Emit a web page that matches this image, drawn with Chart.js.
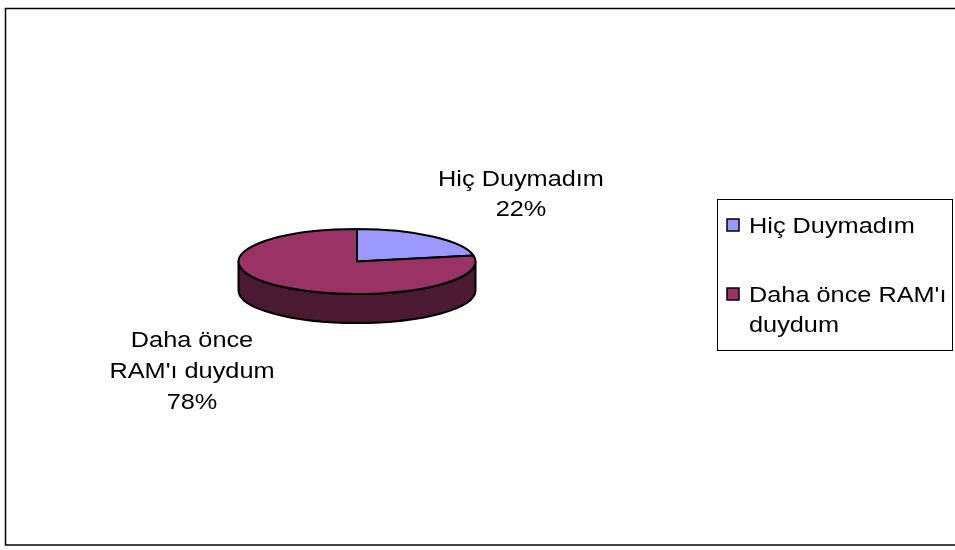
<!DOCTYPE html>
<html>
<head>
<meta charset="utf-8">
<script src="https://cdn.jsdelivr.net/npm/chart.js@4/dist/chart.umd.min.js"></script>
<style>
  html, body { margin: 0; padding: 0; background: #ffffff; }
  #wrap { width: 955px; height: 550px; }
</style>
</head>
<body>
<div id="wrap"><canvas id="c" width="955" height="550"></canvas></div>
<script>
const categories = ["Hiç Duymadım", "Daha önce RAM'ı duydum"];
const values = [22, 78];
const sliceColors = ['#9999FF', '#993366'];
const sideColors = ['#4D4D80', '#4A1A32'];
// text line breaks for data labels and legend entries
const labelLines = [["Hiç Duymadım"], ["Daha önce", "RAM'ı duydum"]];
const legendLines = [["Hiç Duymadım"], ["Daha önce RAM'ı", "duydum"]];

const total = values.reduce((a, b) => a + b, 0);
const pctText = values.map(v => Math.round(v / total * 100) + '%');

const FONT = '22px "Liberation Sans", Arial, sans-serif';
const XSTRETCH = 1.15;

function drawText(ctx, text, x, y, align) {
  ctx.save();
  ctx.translate(x, y);
  ctx.scale(XSTRETCH, 1);
  ctx.textAlign = align;
  ctx.textBaseline = 'alphabetic';
  ctx.fillStyle = '#000000';
  ctx.font = FONT;
  ctx.fillText(text, 0, 0);
  ctx.restore();
}

const pie3d = {
  id: 'pie3d',
  beforeDraw(chart) {
    const ctx = chart.ctx;
    ctx.save();
    ctx.fillStyle = '#ffffff';
    ctx.fillRect(0, 0, chart.width, chart.height);
    ctx.strokeStyle = '#000000';
    ctx.lineWidth = 1.5;
    ctx.strokeRect(5.5, 8.5, 970, 536.5);
    ctx.restore();
  },
  beforeDatasetsDraw(chart) {
    const ctx = chart.ctx;
    const meta = chart.getDatasetMeta(0);
    const ratio = 0.274;
    const depth = 29;
    ctx.save();
    ctx.lineWidth = 2;
    ctx.strokeStyle = '#000000';
    ctx.lineJoin = 'round';
    // side walls (front half only)
    meta.data.forEach((arc, i) => {
      const p = arc.getProps(['x', 'y', 'startAngle', 'endAngle', 'outerRadius'], true);
      const rx = p.outerRadius, ry = rx * ratio;
      const a = Math.max(p.startAngle, 0);
      const b = Math.min(p.endAngle, Math.PI);
      if (b > a) {
        ctx.beginPath();
        ctx.ellipse(p.x, p.y, rx, ry, 0, a, b, false);
        ctx.ellipse(p.x, p.y + depth, rx, ry, 0, b, a, true);
        ctx.closePath();
        ctx.fillStyle = sideColors[i];
        ctx.fill();
        ctx.stroke();
      }
    });
    // top faces
    meta.data.forEach((arc, i) => {
      const p = arc.getProps(['x', 'y', 'startAngle', 'endAngle', 'outerRadius'], true);
      const rx = p.outerRadius, ry = rx * ratio;
      ctx.beginPath();
      ctx.moveTo(p.x, p.y);
      ctx.ellipse(p.x, p.y, rx, ry, 0, p.startAngle, p.endAngle, false);
      ctx.closePath();
      ctx.fillStyle = sliceColors[i];
      ctx.fill();
      ctx.stroke();
    });
    ctx.restore();
    return false;
  },
  afterDraw(chart) {
    const ctx = chart.ctx;
    // data labels
    const lab0 = labelLines[0].concat([pctText[0]]);
    lab0.forEach((t, k) => drawText(ctx, t, 521, 186 + k * 30, 'center'));
    const lab1 = labelLines[1].concat([pctText[1]]);
    lab1.forEach((t, k) => drawText(ctx, t, 192, 347 + k * 31, 'center'));
    // legend
    ctx.save();
    ctx.strokeStyle = '#000000';
    ctx.lineWidth = 1;
    ctx.strokeRect(717.5, 199.5, 235, 151);
    ctx.restore();
    const entryBase = [233, 302];
    legendLines.forEach((lines, i) => {
      ctx.save();
      ctx.fillStyle = sliceColors[i];
      ctx.fillRect(727, entryBase[i] - 14, 12, 12);
      ctx.strokeStyle = '#000000';
      ctx.lineWidth = 1.5;
      ctx.strokeRect(727, entryBase[i] - 14, 12, 12);
      ctx.restore();
      lines.forEach((t, k) => drawText(ctx, t, 749, entryBase[i] + k * 30, 'left'));
    });
  }
};

new Chart(document.getElementById('c'), {
  type: 'pie',
  data: {
    labels: categories,
    datasets: [{
      data: values,
      backgroundColor: sliceColors,
      borderWidth: 0
    }]
  },
  options: {
    responsive: false,
    animation: false,
    rotation: 0,
    layout: { padding: { left: 238.5, right: 479.5, top: 143, bottom: 170 } },
    plugins: {
      legend: { display: false },
      tooltip: { enabled: false }
    }
  },
  plugins: [pie3d]
});
</script>
</body>
</html>
